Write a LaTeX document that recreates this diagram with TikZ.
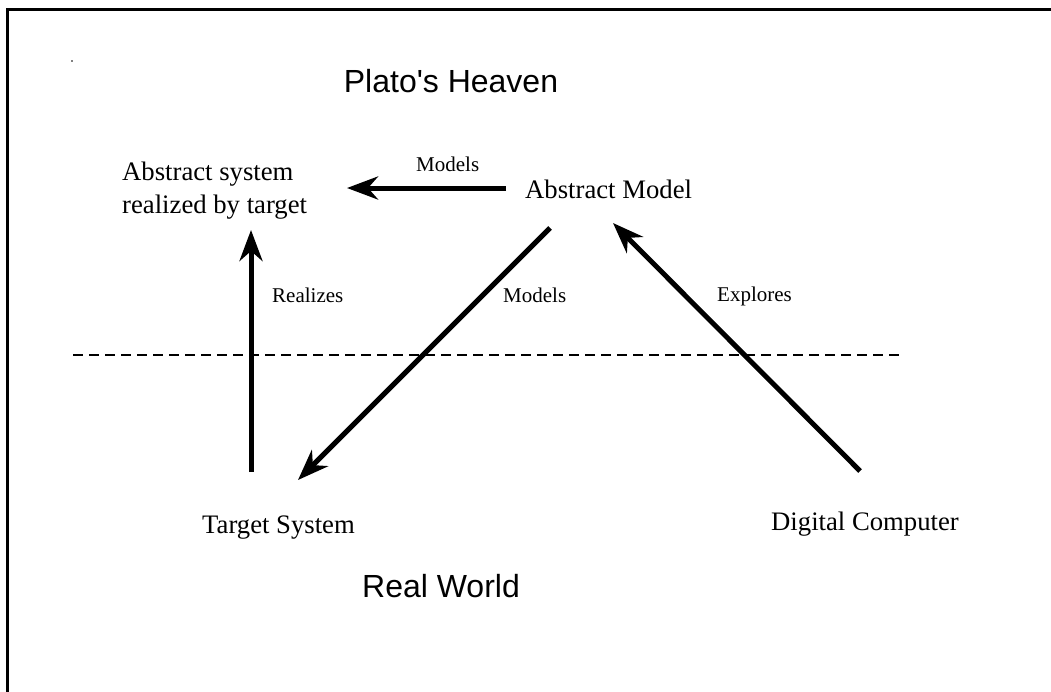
\documentclass[tikz,border=0pt]{standalone}
\usepackage{fontspec}
\setmainfont{Liberation Serif}
\newfontfamily\sansfnt{Liberation Sans}
\usetikzlibrary{arrows.meta}
\begin{document}
\begin{tikzpicture}[x=1pt,y=-1pt,
  big/.style={font=\fontsize{26.7}{33}\selectfont, inner sep=0pt},
  small/.style={font=\fontsize{21}{25}\selectfont, inner sep=0pt},
  title/.style={font=\sansfnt\fontsize{32}{36}\selectfont, inner sep=0pt},
  arr/.style={line width=5pt, -{Stealth[length=31pt,width=23pt,inset=10pt]}},
  frame/.style={line width=3pt},
  divider/.style={line width=2pt, dash pattern=on 10pt off 6pt}]
\useasboundingbox (0,0) rectangle (1051,691);
\fill[white] (0,0) rectangle (1051,691);
% frame (top and left edges)
\draw[frame] (1060,9.5) -- (7.5,9.5) -- (7.5,700);
\fill (72,61) circle (0.8);
% texts
\node[title, anchor=base] (heaven) at (451,92) {Plato's Heaven};
\node[title, anchor=base] (real) at (441,597) {Real World};
\node[big, anchor=north west, align=left] (absys) at (122,162) {Abstract system\\realized by target};
\node[big, anchor=base west] (absmodel) at (525,198) {Abstract Model};
\node[big, anchor=base west] (target) at (202,533) {Target System};
\node[big, anchor=base west] (digital) at (771,530) {Digital Computer};
\node[small, anchor=base west] (lmodels1) at (416,171) {Models};
\node[small, anchor=base west] (lrealizes) at (272,302) {Realizes};
\node[small, anchor=base west] (lmodels2) at (503,302) {Models};
\node[small, anchor=base west] (lexplores) at (717,301) {Explores};
% arrow end points
\coordinate (m1s) at (506,188);
\coordinate (m1e) at (347,188);
\coordinate (m2s) at (550,228);
\coordinate (m2e) at (298,480);
\coordinate (rs) at (251,472);
\coordinate (re) at (251,230);
\coordinate (es) at (860,471);
\coordinate (ee) at (613,223);
\coordinate (dl) at (73,355);
\coordinate (dr) at (900,355);
% connectors
\draw[arr] (m1s) -- (m1e);
\draw[arr] (m2s) -- (m2e);
\draw[arr] (rs) -- (re);
\draw[arr] (es) -- (ee);
\draw[divider] (dl) -- (dr);
\end{tikzpicture}
\end{document}
